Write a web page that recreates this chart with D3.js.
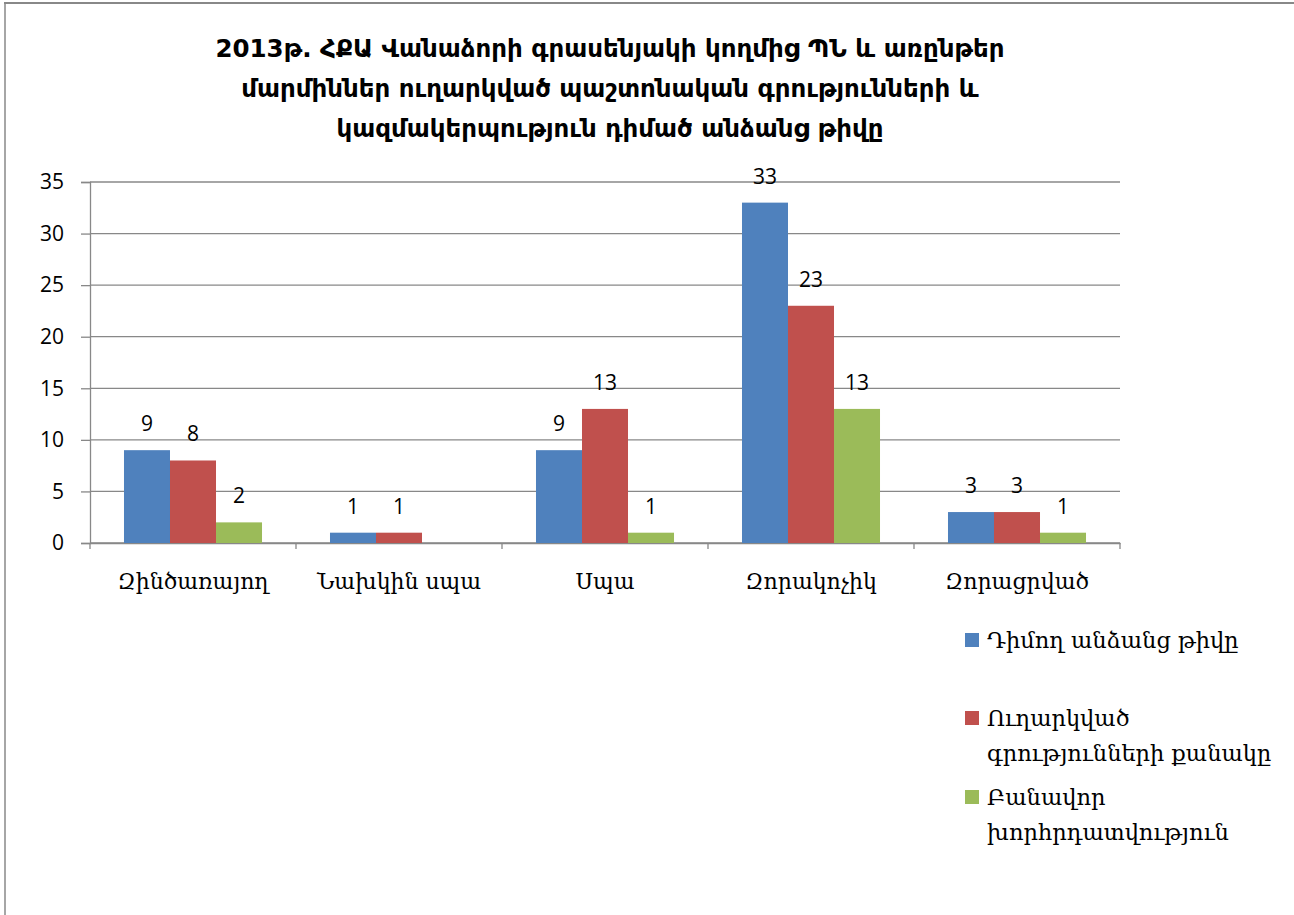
<!DOCTYPE html>
<html><head><meta charset="utf-8">
<script src="https://cdn.jsdelivr.net/npm/d3@7"></script>
<style>body{margin:0;background:#fff;} svg{display:block;}</style>
</head><body>
<svg id="chart" width="1294" height="915"></svg>
<script>
const categories = ["Զինծառայող", "Նախկին սպա", "Սպա", "Զորակոչիկ", "Զորացրված"];
const seriesNames = ["Դիմող անձանց թիվը", "Ուղարկված գրությունների քանակը", "Բանավոր խորհրդատվություն"];
const legendLines = [["Դիմող անձանց թիվը"], ["Ուղարկված", "գրությունների քանակը"], ["Բանավոր", "խորհրդատվություն"]];
const applicants = [9, 1, 9, 33, 3];
const letters = [8, 1, 13, 23, 3];
const consultations = [2, null, 1, 13, 1];
const yTicks = [0, 5, 10, 15, 20, 25, 30, 35];
const colors = ["#4F81BD", "#C0504D", "#9BBB59"];
const titleLines = ["2013թ. ՀՔԱ Վանաձորի գրասենյակի կողմից  ՊՆ և առընթեր", "մարմիններ ուղարկված պաշտոնական գրությունների և", "կազմակերպություն դիմած անձանց թիվը"];

(function(){
const series = [applicants, letters, consultations];
const svg = d3.select("#chart");
const armFont = "'DejaVu Serif', serif";
const numFont = "'Open Sans', 'Liberation Sans', sans-serif";

svg.append("line").attr("x1",4).attr("x2",1294).attr("y1",3).attr("y2",3).attr("stroke","#888").attr("stroke-width",2);
svg.append("line").attr("x1",5).attr("x2",5).attr("y1",3).attr("y2",915).attr("stroke","#888").attr("stroke-width",1.5);

svg.append("g").selectAll("text").data(titleLines).join("text")
  .attr("x", 610).attr("y", (d,i)=>57 + i*40)
  .attr("text-anchor","middle").attr("font-family","'DejaVu Sans', sans-serif")
  .attr("font-weight","bold").attr("font-size",24.5).text(d=>d);

const pL = 90, pR = 1120, pT = 182, pB = 543;
const x = d3.scaleBand().domain(categories).range([pL,pR]).paddingInner(0.33).paddingOuter(0.165);
const x0 = d3.scaleBand().domain(categories).range([pL,pR]);
const xs = d3.scaleBand().domain(d3.range(3)).range([0,x.bandwidth()]);
const y = d3.scaleLinear().domain([0,35]).range([pB,pT]);

svg.append("g").selectAll("line").data(yTicks).join("line")
  .attr("x1",pL).attr("x2",pR).attr("y1",d=>y(d)).attr("y2",d=>y(d))
  .attr("stroke","#888").attr("stroke-width",1.3);

const yAxis = svg.append("g").attr("transform",`translate(${pL},0)`)
  .call(d3.axisLeft(y).tickValues(yTicks).tickSize(9).tickPadding(17));
yAxis.select(".domain").attr("stroke","#888").attr("stroke-width",1.3);
yAxis.selectAll(".tick line").attr("stroke","#888").attr("stroke-width",1.3);
yAxis.selectAll("text").attr("font-family",numFont).attr("font-size",21).attr("fill","#000");

const xAxis = svg.append("g").attr("transform",`translate(0,${pB})`)
  .call(d3.axisBottom(x0).tickSize(0).tickPadding(30));
xAxis.select(".domain").attr("stroke","#888").attr("stroke-width",1.3);
xAxis.selectAll("text").attr("font-family",armFont).attr("font-size",22).attr("fill","#000");
const bounds = categories.map(c=>x0(c)).concat([pR]);
svg.append("g").selectAll("line").data(bounds).join("line")
  .attr("x1",d=>d).attr("x2",d=>d).attr("y1",pB).attr("y2",pB+6)
  .attr("stroke","#888").attr("stroke-width",1.3);

series.forEach((vals,si)=>{
  const data = categories.map((c,i)=>({c, v: vals[i]})).filter(d=>d.v!=null);
  svg.append("g").selectAll("rect").data(data).join("rect")
    .attr("x",d=>x(d.c)+xs(si)).attr("width",xs.bandwidth())
    .attr("y",d=>y(d.v)).attr("height",d=>pB-y(d.v)).attr("fill",colors[si]);
  svg.append("g").selectAll("text").data(data).join("text")
    .attr("x",d=>x(d.c)+xs(si)+xs.bandwidth()/2).attr("y",d=>y(d.v)-19)
    .attr("text-anchor","middle").attr("font-family",numFont).attr("font-size",21)
    .text(d=>d.v);
});

const legY = [640, 718, 797];
legendLines.forEach((lines,i)=>{
  svg.append("rect").attr("x",965).attr("y",legY[i]-7).attr("width",14).attr("height",14).attr("fill",colors[i]);
  svg.append("g").selectAll("text").data(lines).join("text")
    .attr("x",987).attr("y",(d,j)=>legY[i]+8+j*35)
    .attr("font-family",armFont).attr("font-size",22.5).attr("fill","#000").text(d=>d);
});
})();
</script>
</body></html>
